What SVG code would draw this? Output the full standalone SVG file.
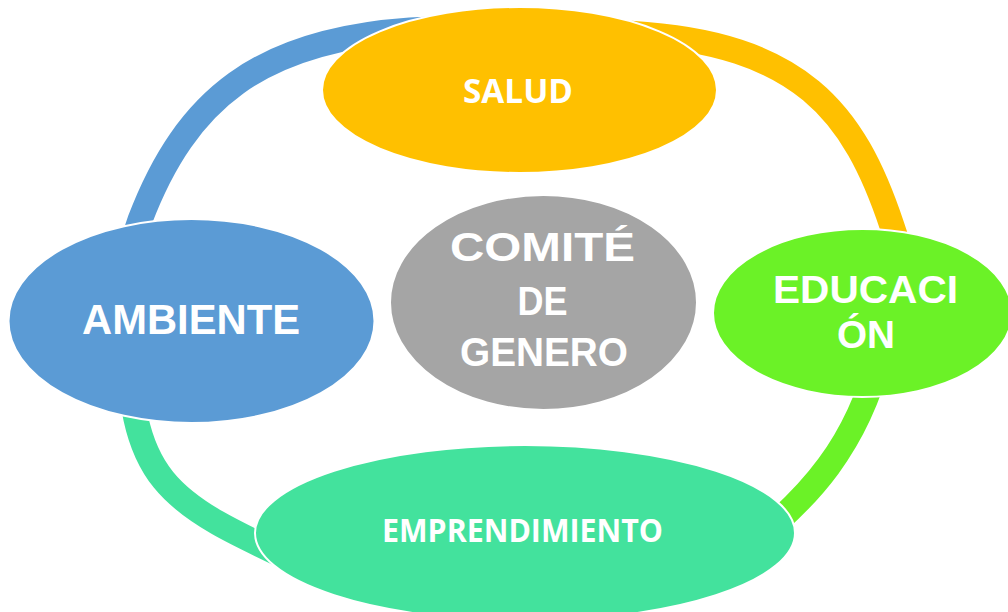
<svg xmlns="http://www.w3.org/2000/svg" width="1008" height="612" viewBox="0 0 1008 612">
<style>
.ring{fill:none;stroke-width:25;stroke-linecap:butt}
.node{stroke:#fff;stroke-width:2}
.ta{font-family:"Liberation Sans",Arial,sans-serif;font-weight:bold;fill:#fff;text-anchor:middle}
.tb{font-family:"Open Sans","Liberation Sans",sans-serif;font-weight:bold;fill:#fff;text-anchor:middle}
</style>
<rect width="1008" height="612" fill="#fff"/>
<g id="connectors">
<path class="ring" stroke="#5B9BD5" d="M128,320 C128,290 129.4,248 140,220 C186.2,98.45 260,40.5 410,30 C440,28 455,30 470,33"/>
<path class="ring" stroke="#FFC000" d="M631,33.3 C801,43.5 854.1,112.1 892,226 L898.3,245"/>
<path class="ring" stroke="#6BF227" d="M880,355 C857.5,442.3 812,498 740,552"/>
<path class="ring" stroke="#43E29D" d="M128,320 C128,490 167,501.6 320,573 C345,584 375,592 420,596"/>
</g>
<g id="salud">
<ellipse class="node" cx="519.5" cy="90" rx="197.5" ry="83" fill="#FFC000"/>
<text class="tb" x="518" y="103" font-size="34" textLength="110" lengthAdjust="spacingAndGlyphs">SALUD</text>
</g>
<g id="ambiente">
<ellipse class="node" cx="191.5" cy="321" rx="183" ry="102" fill="#5B9BD5"/>
<text class="ta" x="191" y="334" font-size="42" textLength="218" lengthAdjust="spacingAndGlyphs">AMBIENTE</text>
</g>
<g id="comite">
<ellipse class="node" cx="543.5" cy="302.5" rx="153.5" ry="107.5" fill="#A5A5A5"/>
<text class="ta" x="542.5" y="261" font-size="41" textLength="185" lengthAdjust="spacingAndGlyphs">COMITÉ</text>
<text class="ta" x="542.5" y="315" font-size="41" textLength="50" lengthAdjust="spacingAndGlyphs">DE</text>
<text class="ta" x="544" y="366" font-size="41" textLength="168" lengthAdjust="spacingAndGlyphs">GENERO</text>
</g>
<g id="educacion">
<ellipse class="node" cx="862.5" cy="313" rx="149.5" ry="84" fill="#6BF227"/>
<text class="ta" x="865.5" y="303" font-size="38" textLength="185" lengthAdjust="spacingAndGlyphs">EDUCACI</text>
<text class="ta" x="866" y="348" font-size="38" textLength="58" lengthAdjust="spacingAndGlyphs">ÓN</text>
</g>
<g id="emprendimiento">
<ellipse class="node" cx="525" cy="533" rx="270" ry="88" fill="#43E29D"/>
<text class="tb" x="522.5" y="542" font-size="32" textLength="281" lengthAdjust="spacingAndGlyphs">EMPRENDIMIENTO</text>
</g>
</svg>
